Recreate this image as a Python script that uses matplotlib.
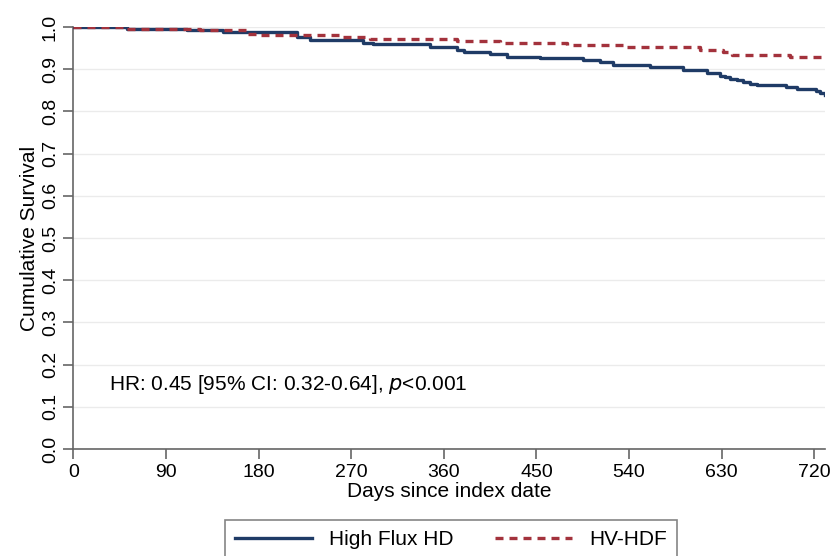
import matplotlib.pyplot as plt

plt.rcParams['font.family'] = ['Liberation Sans', 'DejaVu Sans']

# Kaplan-Meier step points
hd_days = [0, 52, 110, 145, 217, 230, 281, 291, 347, 373, 380, 405, 421, 453,
           495, 512, 524, 560, 592, 616, 628, 633, 638, 645, 651, 658, 664,
           693, 703, 722, 726, 730]
hd_surv = [1.0, 0.995, 0.992, 0.989, 0.977, 0.970, 0.963, 0.960, 0.952, 0.945,
           0.941, 0.936, 0.928, 0.926, 0.922, 0.916, 0.910, 0.906, 0.898, 0.890,
           0.885, 0.881, 0.878, 0.874, 0.870, 0.866, 0.862, 0.858, 0.852, 0.848,
           0.843, 0.839]

hdf_days = [0, 52, 123, 168, 180, 262, 288, 373, 415, 480, 538, 609, 631, 640,
            696, 730]
hdf_surv = [1.0, 0.995, 0.993, 0.984, 0.980, 0.976, 0.972, 0.967, 0.963, 0.957,
            0.952, 0.946, 0.940, 0.934, 0.930, 0.930]

x_ticks = [0, 90, 180, 270, 360, 450, 540, 630, 720]
y_ticks = [0.0, 0.1, 0.2, 0.3, 0.4, 0.5, 0.6, 0.7, 0.8, 0.9, 1.0]

fig = plt.figure(figsize=(8.32, 5.56), dpi=100)
ax = fig.add_axes([0.0883, 0.1924, 0.9027, 0.759])

ax.step(hd_days, hd_surv, where='post', color='#1f3b66', lw=2.4,
        label='High Flux HD', zorder=3)
ax.step(hdf_days, hdf_surv, where='post', color='#a3323c', lw=2.4,
        linestyle=(0, (2.4, 1.8)), label='HV-HDF', zorder=3)

ax.set_xlim(0, 730)
ax.set_ylim(0, 1.0)
ax.set_xticks(x_ticks)
ax.set_yticks(y_ticks)
ax.set_yticklabels([f'{v:.1f}' for v in y_ticks], rotation=90, va='center')
ax.grid(axis='y', color='#ebebeb', lw=1)
ax.set_axisbelow(True)

for side in ['top', 'right']:
    ax.spines[side].set_visible(False)
for side in ['left', 'bottom']:
    ax.spines[side].set_color('#666666')
    ax.spines[side].set_linewidth(1.2)
ax.tick_params(colors='#666666', labelcolor='black', labelsize=14,
               length=7, width=1.2)

ax.set_xlabel('Days since index date', fontsize=15, labelpad=1)
ax.set_ylabel('Cumulative Survival', fontsize=15, labelpad=2)

ax.text(35, 0.152, 'HR: 0.45 [95% CI: 0.32-0.64], $\\it{p}$<0.001',
        fontsize=15, va='center')

leg = fig.legend(loc='upper center', bbox_to_anchor=(0.542, 0.065), ncol=2,
                 fontsize=15, frameon=True, fancybox=False, edgecolor='#666666',
                 handlelength=3.7, columnspacing=2.0, borderpad=0.5,
                 borderaxespad=0)
leg.get_frame().set_linewidth(1.2)

fig.savefig('out.png', dpi=100)
